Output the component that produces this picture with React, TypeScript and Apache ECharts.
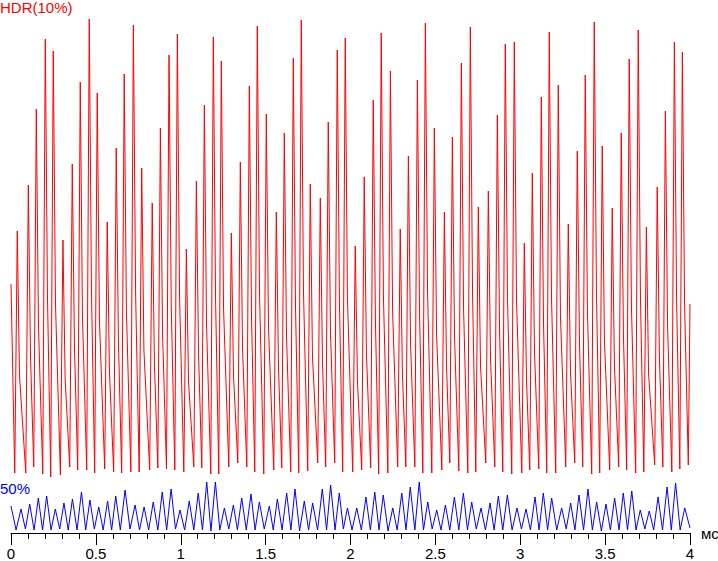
import { useEffect, useRef } from "react";
import * as echarts from "echarts";

// Time axis (ms) and signal levels
const redStart = [0, 249];
const redEnd = [4, 229];
const redPeakTime = [
  0.037, 0.102, 0.149, 0.202, 0.249, 0.306, 0.361, 0.408, 0.461, 0.508,
  0.567, 0.620, 0.667, 0.721, 0.770, 0.832, 0.880, 0.931, 0.980, 1.033,
  1.092, 1.139, 1.192, 1.239, 1.298, 1.351, 1.404, 1.451, 1.504, 1.563,
  1.610, 1.663, 1.710, 1.763, 1.822, 1.869, 1.922, 1.969, 2.028, 2.081,
  2.134, 2.181, 2.235, 2.293, 2.341, 2.394, 2.441, 2.494, 2.553, 2.600,
  2.653, 2.706, 2.753, 2.812, 2.865, 2.912, 2.965, 3.024, 3.071, 3.124,
  3.171, 3.224, 3.283, 3.336, 3.383, 3.436, 3.483, 3.542, 3.595, 3.642,
  3.695, 3.743, 3.807, 3.855, 3.908, 3.955,
];
const redPeakLevel = [
  302, 348, 424, 494, 482, 293, 369, 451, 514, 440,
  311, 385, 459, 508, 365, 330, 405, 478, 499, 284,
  352, 428, 496, 472, 300, 371, 447, 507, 419, 321,
  400, 475, 513, 349, 335, 411, 483, 495, 287, 356,
  433, 500, 462, 304, 377, 453, 510, 405, 321, 396,
  470, 506, 326, 342, 418, 489, 491, 290, 360, 436,
  501, 448, 309, 382, 458, 511, 387, 325, 400, 474,
  503, 306, 346, 422, 491, 481,
];
// level reached shortly after each peak, where the steep fall turns into a slower decay
const redKneeDelay = 0.013;
const redKneeLevel = [
  158, 176, 207, 235, 230, 154, 185, 217, 243, 213,
  161, 191, 221, 240, 183, 169, 199, 228, 237, 151,
  178, 208, 235, 226, 157, 185, 216, 240, 205, 165,
  197, 227, 242, 177, 171, 201, 230, 235, 152, 179,
  210, 237, 222, 159, 188, 218, 241, 199, 165, 195,
  225, 239, 167, 174, 204, 233, 233, 153, 181, 211,
  237, 216, 161, 190, 220, 241, 192, 167, 197, 227,
  238, 159, 175, 206, 233, 229,
];
const redTroughTime = [
  0.022, 0.087, 0.134, 0.187, 0.234, 0.291, 0.346, 0.393, 0.446, 0.493,
  0.552, 0.605, 0.652, 0.706, 0.755, 0.817, 0.865, 0.916, 0.965, 1.018,
  1.077, 1.124, 1.177, 1.224, 1.283, 1.336, 1.389, 1.436, 1.489, 1.548,
  1.595, 1.648, 1.695, 1.748, 1.807, 1.854, 1.907, 1.954, 2.013, 2.066,
  2.119, 2.166, 2.220, 2.278, 2.326, 2.379, 2.426, 2.479, 2.538, 2.585,
  2.638, 2.691, 2.738, 2.797, 2.850, 2.897, 2.950, 3.009, 3.056, 3.109,
  3.156, 3.209, 3.268, 3.321, 3.368, 3.421, 3.468, 3.527, 3.580, 3.627,
  3.680, 3.728, 3.792, 3.840, 3.893, 3.940, 3.990,
];
const redTroughLevel = [
  60, 60, 66, 59, 56, 58, 66, 63, 63, 60,
  64, 61, 60, 61, 61, 63, 65, 64, 63, 61,
  66, 65, 59, 59, 66, 70, 66, 61, 59, 63,
  65, 61, 60, 62, 70, 66, 70, 61, 61, 63,
  65, 59, 60, 66, 66, 66, 60, 60, 63, 70,
  62, 60, 61, 70, 66, 61, 59, 60, 63, 64,
  60, 60, 66, 70, 66, 59, 60, 63, 66, 63,
  60, 61, 68, 66, 61, 64, 68,
];

const blueStart = [0, 27];
const blueEnd = [4, 5];
const bluePeakTime = [
  0.059, 0.110, 0.161, 0.210, 0.261, 0.312, 0.362, 0.415, 0.465, 0.517,
  0.569, 0.617, 0.672, 0.731, 0.784, 0.838, 0.891, 0.943, 0.996, 1.050,
  1.103, 1.153, 1.204, 1.257, 1.310, 1.359, 1.414, 1.463, 1.522, 1.569,
  1.624, 1.673, 1.728, 1.777, 1.834, 1.883, 1.934, 1.982, 2.037, 2.091,
  2.143, 2.193, 2.249, 2.302, 2.352, 2.405, 2.455, 2.508, 2.559, 2.612,
  2.665, 2.714, 2.769, 2.822, 2.871, 2.924, 2.981, 3.034, 3.087, 3.136,
  3.185, 3.244, 3.297, 3.346, 3.399, 3.450, 3.505, 3.556, 3.607, 3.657,
  3.707, 3.760, 3.812, 3.865, 3.915, 3.969,
];
const bluePeakLevel = [
  24, 29, 35, 37, 24, 30, 34, 41, 33, 26,
  32, 37, 43, 28, 26, 31, 41, 44, 23, 32,
  40, 51, 51, 25, 28, 35, 39, 31, 27, 34,
  40, 44, 32, 30, 44, 48, 40, 25, 25, 36,
  41, 38, 25, 40, 46, 51, 31, 23, 28, 36,
  40, 31, 25, 30, 37, 38, 25, 24, 36, 40,
  35, 25, 30, 38, 44, 31, 29, 35, 40, 42,
  23, 22, 36, 46, 50, 25,
];
const blueTroughTime = [
  0.030, 0.085, 0.136, 0.186, 0.236, 0.287, 0.337, 0.389, 0.440, 0.491,
  0.543, 0.593, 0.644, 0.701, 0.757, 0.811, 0.865, 0.917, 0.969, 1.023,
  1.077, 1.128, 1.178, 1.230, 1.283, 1.334, 1.386, 1.438, 1.492, 1.545,
  1.597, 1.649, 1.700, 1.753, 1.806, 1.859, 1.909, 1.958, 2.009, 2.064,
  2.117, 2.168, 2.221, 2.275, 2.327, 2.379, 2.430, 2.481, 2.533, 2.585,
  2.638, 2.689, 2.741, 2.795, 2.846, 2.897, 2.952, 3.007, 3.060, 3.111,
  3.161, 3.215, 3.271, 3.322, 3.373, 3.425, 3.478, 3.531, 3.582, 3.632,
  3.682, 3.734, 3.786, 3.838, 3.890, 3.942,
];
const blueTroughLevel = [
  3, 4, 3, 3, 3, 4, 3, 3, 3, 4,
  3, 3, 3, 4, 3, 3, 3, 3, 4, 3,
  3, 3, 2, 3, 4, 3, 3, 3, 4, 3,
  3, 3, 2, 3, 3, 3, 3, 4, 3, 3,
  3, 3, 2, 3, 3, 3, 3, 4, 3, 3,
  3, 3, 4, 3, 3, 3, 3, 4, 3, 3,
  3, 3, 4, 3, 3, 3, 2, 3, 3, 3,
  3, 4, 3, 3, 3, 3,
];

const redLabel = "HDR(10%)";
const blueLabel = "50%";
const xUnit = "мс";

function buildRed(): number[][] {
  const out: number[][] = [redStart];
  for (let i = 0; i < redPeakTime.length; i++) {
    out.push([redTroughTime[i], redTroughLevel[i]]);
    out.push([redPeakTime[i], redPeakLevel[i]]);
    out.push([redPeakTime[i] + redKneeDelay, redKneeLevel[i]]);
  }
  const last = redTroughTime.length - 1;
  out.push([redTroughTime[last], redTroughLevel[last]]);
  out.push(redEnd);
  return out;
}

function buildBlue(): number[][] {
  const out: number[][] = [blueStart];
  for (let i = 0; i < bluePeakTime.length; i++) {
    out.push([blueTroughTime[i], blueTroughLevel[i]]);
    out.push([bluePeakTime[i], bluePeakLevel[i]]);
  }
  out.push(blueEnd);
  return out;
}

const FONT = '"Liberation Sans", Arial, sans-serif';

export default function App() {
  const ref = useRef<HTMLDivElement>(null);
  useEffect(() => {
    const chart = echarts.init(ref.current!, null, { renderer: "svg" });
    chart.setOption({
      animation: false,
      backgroundColor: "#ffffff",
      grid: { left: 11, right: 28, top: 18, bottom: 28, containLabel: false, outerBoundsMode: "none" },
      xAxis: {
        type: "value",
        min: 0,
        max: 4,
        interval: 0.5,
        name: xUnit,
        nameLocation: "end",
        nameGap: 11,
        nameTextStyle: { color: "#000", fontSize: 15, fontFamily: FONT, verticalAlign: "middle" },
        axisLine: { show: true, onZero: false, lineStyle: { color: "#000", width: 1 } },
        axisTick: { show: true, length: 12, lineStyle: { color: "#000", width: 1 } },
        minorTick: { show: true, splitNumber: 5, length: 6, lineStyle: { color: "#000", width: 1 } },
        axisLabel: { color: "#000", fontSize: 15, fontFamily: FONT, margin: 13 },
        splitLine: { show: false },
        minorSplitLine: { show: false },
      },
      yAxis: { type: "value", min: 0, max: 515, show: false, splitLine: { show: false } },
      series: [
        {
          type: "line",
          data: buildRed(),
          symbol: "none",
          silent: true,
          lineStyle: { color: "#ff0000", width: 1 },
          itemStyle: { color: "#ff0000" },
        },
        {
          type: "line",
          data: buildBlue(),
          symbol: "none",
          silent: true,
          lineStyle: { color: "#0000ff", width: 1 },
          itemStyle: { color: "#0000ff" },
        },
      ],
      graphic: [
        { type: "text", left: 0, top: 0, style: { text: redLabel, fill: "#ff0000", font: `15px ${FONT}` } },
        { type: "text", left: 0, top: 481, style: { text: blueLabel, fill: "#0000ff", font: `15px ${FONT}` } },
      ],
    });
    return () => chart.dispose();
  }, []);
  return (
    <div
      ref={ref}
      style={{ position: "fixed", left: 0, top: 0, width: 718, height: 561, background: "#fff" }}
    />
  );
}
